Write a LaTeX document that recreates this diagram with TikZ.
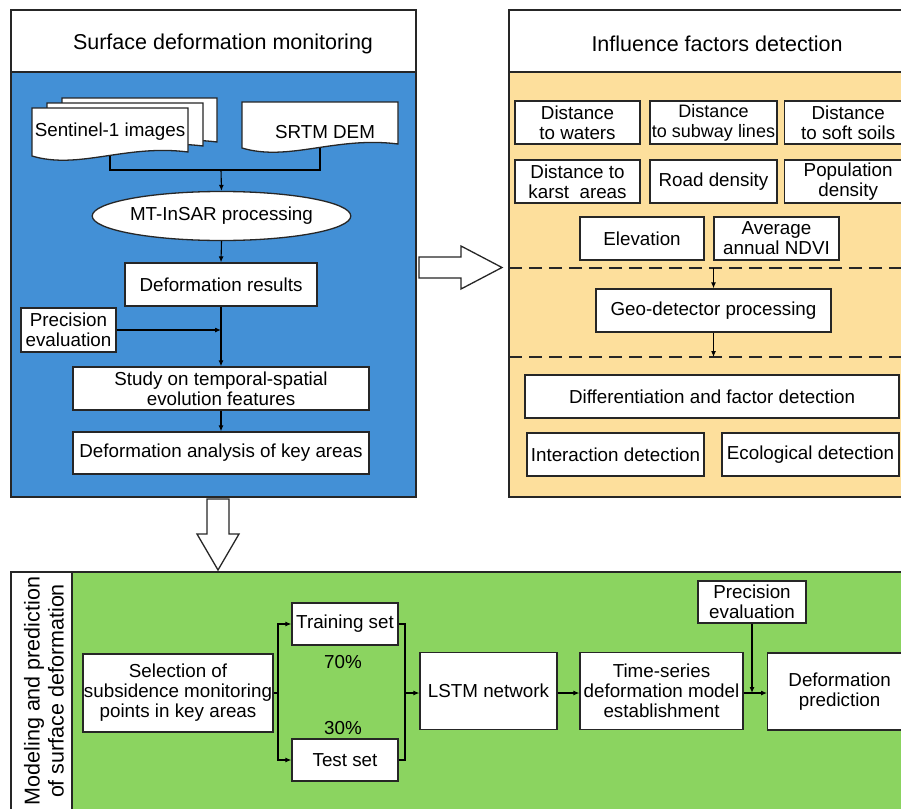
\documentclass[tikz,border=0pt]{standalone}
\usepackage{fontspec}
\setmainfont{Liberation Sans}
\usetikzlibrary{shapes.geometric,arrows.meta}
\definecolor{pblue}{HTML}{4390D6}
\definecolor{porange}{HTML}{FDDF9C}
\definecolor{pgreen}{HTML}{8BD460}
\definecolor{edge}{HTML}{262626}
\newcommand\mydoc[4]{\filldraw[docline] (#1,#2) -- (#3,#2) -- (#3,{#4-4}) .. controls ({#1+0.6*(#3-#1)},{#4-12}) and ({#1+0.3*(#3-#1)},{#4+14}) .. (#1,#4) -- cycle;}
\begin{document}
\begin{tikzpicture}[x=1pt,y=-1pt,
  frame/.style={draw=edge,line width=1.3pt},
  docline/.style={draw=edge,fill=white,line width=1.3pt},
  box/.style={draw=edge,fill=white,line width=1.3pt,inner sep=0pt,align=center,font=\fontsize{18.8}{20}\selectfont},
  sz/.style 2 args={minimum width=#1,minimum height=#2},
  txt/.style={inner sep=0pt,align=center,font=\fontsize{18.8}{20}\selectfont},
  hdr/.style={inner sep=0pt,align=center,font=\fontsize{21.5}{24}\selectfont},
  conn/.style={draw=black,line width=1.1pt},
  arr/.style={draw=black,line width=1.1pt,-{Latex[length=6pt,width=5pt]}},
  dashline/.style={draw=edge,line width=1.3pt,dash pattern=on 13pt off 7pt},
  bigarrow/.style={draw=edge,fill=white,line width=1.3pt,line join=miter}]
\useasboundingbox (0,0) rectangle (901,808);

% ---------------- left panel ----------------
\fill[pblue] (11,72) rectangle (416,497);
\draw[frame] (11,10) rectangle (416,497);
\draw[frame] (11,72) -- (416,72);
\node[hdr] (hdrL) at (223,44) {Surface deformation monitoring};

\mydoc{62}{98}{217}{146}
\mydoc{47}{103}{203}{150}
\mydoc{32}{108}{188}{156}
\node[txt] (sent) at (110,132) {Sentinel-1 images};
\mydoc{242}{102}{398}{148}
\node[txt] (srtm) at (325,132) {SRTM DEM};
\coordinate (sentb) at (110,156);
\coordinate (srtmb) at (320,148);
\coordinate (jn) at (221,170);

\node[box,ellipse,sz={207}{49}] (mt) at (221.5,216) {MT-InSAR processing};
\draw[conn] (sentb) -- (sentb |- jn) -- (srtmb |- jn) -- (srtmb);
\draw[arr] (jn) -- (mt.north);

\node[box,sz={192}{43}] (res) at (221,284.5) {Deformation results};
\draw[arr] (mt.south) -- (res.north);
\node[box,sz={95}{44}] (prec1) at (68.5,330) {Precision\\evaluation};
\node[box,sz={296}{43}] (study) at (221,388.5) {Study on temporal-spatial\\evolution features};
\node[box,sz={296}{42}] (ana) at (221,453) {Deformation analysis of key areas};
\draw[arr] (res.south) -- (study.north);
\coordinate (pj) at (221,330);
\draw[arr] (prec1.east) -- (pj);
\draw[arr] (study.south) -- (ana.north);

% ---------------- right panel ----------------
\fill[porange] (509,72) rectangle (905,497);
\draw[frame] (509,10) rectangle (905,497);
\draw[frame] (509,72) -- (905,72);
\node[hdr] (hdrR) at (717,44) {Influence factors detection};

\node[box,sz={125}{43}] (f1) at (577.5,122.5) {Distance\\to waters};
\node[box,sz={127}{43},font=\fontsize{18}{20}\selectfont] (f2) at (713.5,122.5) {Distance\\to subway lines};
\node[box,sz={127}{43},anchor=west] (f3) at (784,122.5) {Distance\\to soft soils};
\node[box,sz={125}{43}] (f4) at (577.5,181.5) {Distance to\\karst\ \ areas};
\node[box,sz={127}{43}] (f5) at (713.5,181.5) {Road density};
\node[box,sz={127}{43},anchor=west] (f6) at (784,181.5) {Population\\density};
\node[box,sz={124}{43}] (f7) at (642,238.5) {Elevation};
\node[box,sz={125}{43}] (f8) at (776.5,238.5) {Average\\annual NDVI};

\coordinate (d1a) at (509,268);
\coordinate (d1b) at (905,268);
\coordinate (d2a) at (509,357);
\coordinate (d2b) at (905,357);
\draw[dashline] (d1a) -- (d1b);
\draw[dashline] (d2a) -- (d2b);

\node[box,sz={235}{43}] (geo) at (713.5,310.5) {Geo-detector processing};
\coordinate (g1) at (713.5,268);
\coordinate (g2) at (713.5,357);
\draw[arr] (g1) -- (geo.north);
\draw[arr] (geo.south) -- (g2);

\node[box,sz={374}{43}] (diff) at (712,396.5) {Differentiation and factor detection};
\node[box,sz={177}{43}] (inter) at (615.5,454.5) {Interaction detection};
\node[box,sz={177}{43}] (eco) at (810.5,454.5) {Ecological detection};

% ---------------- block arrows ----------------
\draw[bigarrow] (419,257) -- (461,257) -- (461,246) -- (502,267.5) -- (461,289) -- (461,278) -- (419,278) -- cycle;
\draw[bigarrow] (207,499) -- (229,499) -- (229,534) -- (239,534) -- (218,570) -- (197,534) -- (207,534) -- cycle;

% ---------------- bottom panel ----------------
\fill[pgreen] (72,572) rectangle (905,812);
\draw[frame] (11,572) rectangle (905,812);
\draw[frame] (72,572) -- (72,812);
\node[hdr,rotate=90,font=\fontsize{21.5}{24}\selectfont] (lbl) at (44,691) {Modeling and prediction\\of surface deformation};

\node[box,sz={190}{78}] (sel) at (178,693) {Selection of\\subsidence monitoring\\points in key areas};
\node[box,sz={106}{42}] (train) at (345,624) {Training set};
\node[box,sz={106}{42}] (test) at (345,760) {Test set};
\node[txt] (p70) at (343,662) {70\%};
\node[txt] (p30) at (343,728) {30\%};
\coordinate (sp) at (278,693);
\draw[conn] (sel.east) -- (sp);
\draw[arr] (sp) |- (train.west);
\draw[arr] (sp) |- (test.west);

\node[box,sz={137}{77}] (lstm) at (488.5,691) {LSTM network};
\coordinate (mg) at (405,693);
\draw[conn] (train.east) -| (mg);
\draw[conn] (test.east) -| (mg);
\draw[arr] (mg) -- (mg -| lstm.west);

\node[box,sz={163}{77}] (ts) at (661.5,691) {Time-series\\deformation model\\establishment};
\draw[arr] (lstm.east |- mg) -- (ts.west |- mg);

\node[box,sz={108}{42}] (prec2) at (752,602) {Precision\\evaluation};
\node[box,sz={144}{77},anchor=west] (dp) at (767,691.5) {Deformation\\prediction};
\coordinate (pj2) at (752,693);
\draw[arr] (prec2.south) -- (pj2);
\draw[arr] (ts.east |- mg) -- (dp.west |- mg);
\end{tikzpicture}
\end{document}
